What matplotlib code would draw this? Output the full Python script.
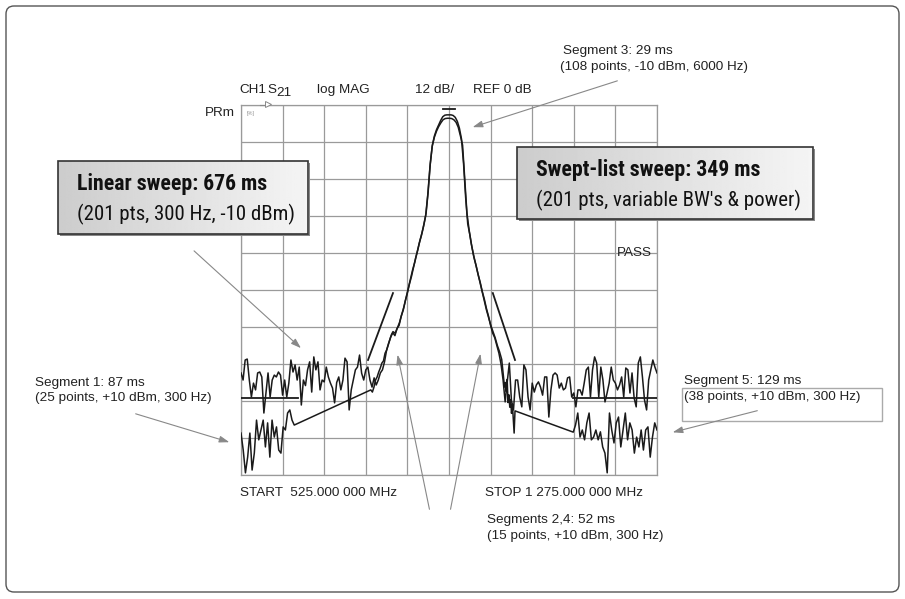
import numpy as np
import matplotlib.pyplot as plt
from matplotlib import font_manager as fm
from matplotlib.patches import Rectangle, FancyBboxPatch

# analyzer screen settings
start_mhz, stop_mhz = 525, 1275
n_linear = 201
ref_db, db_per_div = 0, 12

# linear sweep trace, 201 points, dB
linear_left = [-86.9, -89.2, -82.7, -82.4, -89.2, -94.7, -90.2, -92.4, -86.9, -86.6,
               -88.2, -99.9, -93.5, -86.9, -94.7, -89.2, -87.6, -88.2, -86.6, -87.6,
               -94.1, -89.2, -94.7, -90.2, -82.7, -86.6, -84.3, -89.2, -85.0, -97.3,
               -89.2, -91.0, -85.9, -83.3, -93.1, -81.7, -85.9, -83.3, -92.4, -89.2,
               -89.8, -85.0, -88.2, -90.2, -91.8, -96.6, -90.0, -88.2, -92.4, -89.2,
               -82.1, -83.3, -98.9, -92.4, -89.2, -85.9, -85.0, -81.1, -87.0, -89.2,
               -85.9, -85.0, -89.2, -91.5, -88.5, -90.8, -89.2, -86.9, -85.9, -83.3,
               -79.5, -77.2, -75.2, -73.9]
linear_mid = [-74.8, -72.5, -71.5, -68.5, -66.5, -63.5, -61.0, -58.0, -55.5, -52.5,
              -49.5, -47.0, -44.0, -41.5, -38.5, -35.0, -28.0, -19.0, -13.0, -10.0,
              -8.0, -6.5, -5.0, -3.8, -3.3, -3.2, -3.2, -3.2, -3.4, -4.0,
              -5.3, -7.5, -11.0, -19.0, -30.0, -38.5, -42.0, -46.0, -49.5, -52.0,
              -55.0, -57.5, -60.5, -63.0, -66.0, -68.5, -71.5, -74.0, -75.5, -78.0,
              -80.5, -84.0]
linear_right = [-89.2, -96.3, -89.8, -83.7, -95.7, -98.9, -89.2, -89.2, -94.7, -97.9,
                -84.3, -85.9, -94.7, -98.9, -90.2, -93.1, -90.8, -89.8, -91.5, -94.1,
                -88.2, -88.2, -101.2, -92.4, -87.6, -86.9, -87.6, -91.8, -90.2, -92.4,
                -91.8, -88.5, -88.2, -94.7, -93.4, -97.9, -92.4, -92.4, -94.1, -90.2,
                -85.9, -85.0, -94.7, -85.9, -81.7, -83.7, -94.7, -85.0, -89.2, -96.3,
                -93.4, -90.2, -85.0, -89.2, -90.2, -92.4, -90.8, -88.2, -94.7, -85.3,
                -85.9, -93.4, -86.9, -95.0, -97.9, -83.7, -81.7, -88.2, -95.7, -98.9,
                -89.2, -85.9, -82.7, -85.0, -86.9]
linear_db = linear_left + linear_mid + linear_right

# swept-list sweep segments: (start, stop) MHz and measured dB
seg1_range = (525, 621)
seg1_db = [-106.4, -111.9, -119.3, -114.2, -106.4, -118.4, -112.9, -102.2, -108.6, -105.4,
           -102.2, -110.9, -103.1, -114.2, -102.2, -107.7, -104.4, -111.9, -112.9, -104.4,
           -105.4, -99.9, -98.9, -102.2, -103.8]
seg2_range = (759, 799)
seg2_db = [-92.4, -93.1, -91.5, -89.2, -88.2, -86.6, -85.3, -83.7, -83.0, -80.5,
           -79.5, -77.8, -76.2, -74.5, -73.5]
seg3_range = (803, 995)
seg3_db = [-74.0, -72.3, -70.5, -68.0, -65.5, -62.5, -59.5, -56.5, -53.5, -51.0,
           -48.0, -45.0, -42.5, -39.5, -36.0, -29.0, -20.0, -13.5, -10.5, -8.5,
           -7.0, -5.8, -4.8, -4.4, -4.3, -4.3, -4.4, -4.8, -5.6, -7.2,
           -10.0, -13.0, -24.0, -35.0, -40.5, -45.0, -48.5, -51.5, -54.5, -57.5,
           -60.5, -63.5, -66.5, -69.0, -71.5, -73.5, -75.5, -78.0, -80.0, -82.5]
seg4_range = (997, 1019)
seg4_db = [-86.0, -88.5, -91.5, -90.0, -93.0, -89.0, -96.5, -94.0, -98.0, -95.5,
           -100.0, -97.0, -101.5, -106.4, -99.2]
seg5_range = (1124, 1275)
seg5_db = [-106.1, -103.8, -99.9, -107.7, -105.4, -108.6, -103.1, -99.9, -108.6, -107.7,
           -105.4, -108.6, -106.0, -110.9, -112.9, -119.3, -99.9, -105.4, -109.6, -103.1,
           -101.2, -110.9, -105.4, -99.9, -108.6, -103.1, -105.4, -112.9, -107.7, -110.9,
           -105.4, -111.9, -105.4, -104.4, -114.2, -107.7, -103.1, -105.4]

# limit lines (MHz, dB)
lim_left_f, lim_left_db = [525, 628], [-95, -95]
lim_right_f, lim_right_db = [1124, 1275], [-95, -95]
lim_slope_l_f, lim_slope_l_db = [754, 799], [-82.7, -61]
lim_slope_r_f, lim_slope_r_db = [979, 1019], [-61, -82.7]
lim_top_f, lim_top_db = [889, 911], [-1.3, -1.3]

W, H = 905, 599
fig = plt.figure(figsize=(W / 100, H / 100), dpi=100)
sans = ['Liberation Sans', 'DejaVu Sans']

# pick a condensed face for the callout boxes if one is installed
fams = {f.name for f in fm.fontManager.ttflist}
cond_family, cond_stretch = 'Liberation Sans', 'normal'
for name in ['Roboto Condensed', 'Liberation Sans Narrow', 'Open Sans Condensed']:
    if name in fams:
        cond_family = name
        break
else:
    if any(f.name == 'DejaVu Sans' and f.stretch == 'condensed' for f in fm.fontManager.ttflist):
        cond_family, cond_stretch = 'DejaVu Sans', 'condensed'

# instrument graticule
ax = fig.add_axes([241 / W, (H - 475) / H, 416 / W, 370 / H])
ax.set_xlim(start_mhz, stop_mhz)
ax.set_ylim(ref_db - 10 * db_per_div, ref_db)
ax.set_xticks(np.linspace(start_mhz, stop_mhz, 11))
ax.set_yticks(np.arange(ref_db - 10 * db_per_div, ref_db + 1, db_per_div))
ax.tick_params(length=0, labelbottom=False, labelleft=False)
ax.grid(True, color='#9a9a9a', lw=0.9)
for s in ax.spines.values():
    s.set_color('#9a9a9a')
    s.set_linewidth(0.9)

trace_kw = dict(color='#1a1a1a', lw=1.1, zorder=3)
f_lin = np.linspace(start_mhz, stop_mhz, n_linear)
ax.plot(f_lin, linear_db, **trace_kw)

segs = [(seg1_range, seg1_db), (seg2_range, seg2_db), (seg3_range, seg3_db),
        (seg4_range, seg4_db), (seg5_range, seg5_db)]
f_sl, db_sl = [], []
for (a, b), vals in segs:
    f_sl.extend(np.linspace(a, b, len(vals)))
    db_sl.extend(vals)
ax.plot(f_sl, db_sl, **trace_kw)

lim_kw = dict(color='#1a1a1a', lw=1.3, zorder=3)
ax.plot(lim_left_f, lim_left_db, **lim_kw)
ax.plot(lim_right_f, lim_right_db, **lim_kw)
ax.plot(lim_slope_l_f, lim_slope_l_db, **lim_kw)
ax.plot(lim_slope_r_f, lim_slope_r_db, **lim_kw)
ax.plot(lim_top_f, lim_top_db, **lim_kw)

# overlay in pixel units for callouts
ov = fig.add_axes([0, 0, 1, 1])
ov.set_xlim(0, W)
ov.set_ylim(H, 0)
ov.axis('off')
ov.set_zorder(5)
ov.patch.set_alpha(0)

ov.add_patch(FancyBboxPatch((6, 6), 893, 586, boxstyle='round,pad=0,rounding_size=8',
                            fc='none', ec='#555555', lw=1.0))

txt = dict(fontsize=9.7, family=sans, color='#222222', va='center')
ov.text(239, 90, 'CH1', **txt)
ov.text(267, 90, 'S', **txt)
ov.text(276, 93, '21', **txt)
ov.text(317, 90, 'log MAG', **txt)
ov.text(415, 90, '12 dB/', **txt)
ov.text(473, 90, 'REF 0 dB', **txt)
ov.text(205, 113, 'PRm', **txt)
ov.text(247, 113, '[%]', fontsize=4, family=sans, color='#999999', va='center')
ov.plot([260, 266], [105, 105], color='#888888', lw=0.8)
ov.plot(268, 104, marker='>', ms=4, mfc='white', mec='#888888', mew=0.7)
ov.text(617, 253, 'PASS', **txt)
ov.text(240, 493, 'START  525.000 000 MHz', **txt)
ov.text(485, 493, 'STOP 1 275.000 000 MHz', **txt)

ov.text(563, 51, 'Segment 3: 29 ms', **txt)
ov.text(560, 67, '(108 points, -10 dBm, 6000 Hz)', **txt)
ov.text(35, 383, 'Segment 1: 87 ms', **txt)
ov.text(35, 398, '(25 points, +10 dBm, 300 Hz)', **txt)
ov.text(684, 381, 'Segment 5: 129 ms', **txt)
ov.text(684, 397, '(38 points, +10 dBm, 300 Hz)', **txt)
ov.add_patch(Rectangle((682, 388), 200, 33, fc='none', ec='#aaaaaa', lw=1.0))
ov.text(487, 520, 'Segments 2,4: 52 ms', **txt)
ov.text(487, 536, '(15 points, +10 dBm, 300 Hz)', **txt)

arrow_kw = dict(arrowstyle='-|>,head_length=0.6,head_width=0.2', color='#888888', lw=0.8)
def arrow(x0, y0, x1, y1):
    ov.annotate('', xy=(x1, y1), xytext=(x0, y0), arrowprops=arrow_kw)

arrow(620, 80, 470, 128)
arrow(133, 413, 232, 443)
arrow(760, 410, 670, 433)
arrow(430, 512, 397, 352)
arrow(450, 512, 481, 351)
arrow(192, 249, 303, 350)

# callout boxes with grey gradient; text squeezed to the widths on the original
renderer = fig.canvas.get_renderer()
def fit_text(x, y, s, width, **kw):
    t = ov.text(x, y, s, **kw)
    w = t.get_window_extent(renderer=renderer).width
    t.set_fontsize(t.get_fontsize() * width / w)
    return t

grad = np.linspace(0.80, 0.96, 256).reshape(1, -1)
boxes = [((58, 161, 308, 234), 'Linear sweep: 676 ms', '(201 pts, 300 Hz, -10 dBm)', 190, 218),
         ((517, 147, 813, 219), 'Swept-list sweep: 349 ms', "(201 pts, variable BW's & power)", 225, 265)]
for (x0, y0, x1, y1), l1, l2, w1, w2 in boxes:
    ov.add_patch(Rectangle((x0 + 2, y0 + 2), x1 - x0, y1 - y0, fc='#888888', ec='none', zorder=2))
    ov.imshow(grad, cmap='gray', vmin=0, vmax=1, extent=(x0, x1, y1, y0), aspect='auto', zorder=3)
    ov.add_patch(Rectangle((x0, y0), x1 - x0, y1 - y0, fc='none', ec='#333333', lw=1.2, zorder=4))
    fit_text(x0 + 19, y0 + 23, l1, w1, fontsize=15, weight='bold', family=cond_family,
             stretch=cond_stretch, color='#111111', va='center', zorder=5)
    fit_text(x0 + 19, y0 + 53, l2, w2, fontsize=15, family=cond_family,
             stretch=cond_stretch, color='#111111', va='center', zorder=5)
ov.set_xlim(0, W)
ov.set_ylim(H, 0)

fig.savefig('out.png', dpi=100, facecolor='white')
